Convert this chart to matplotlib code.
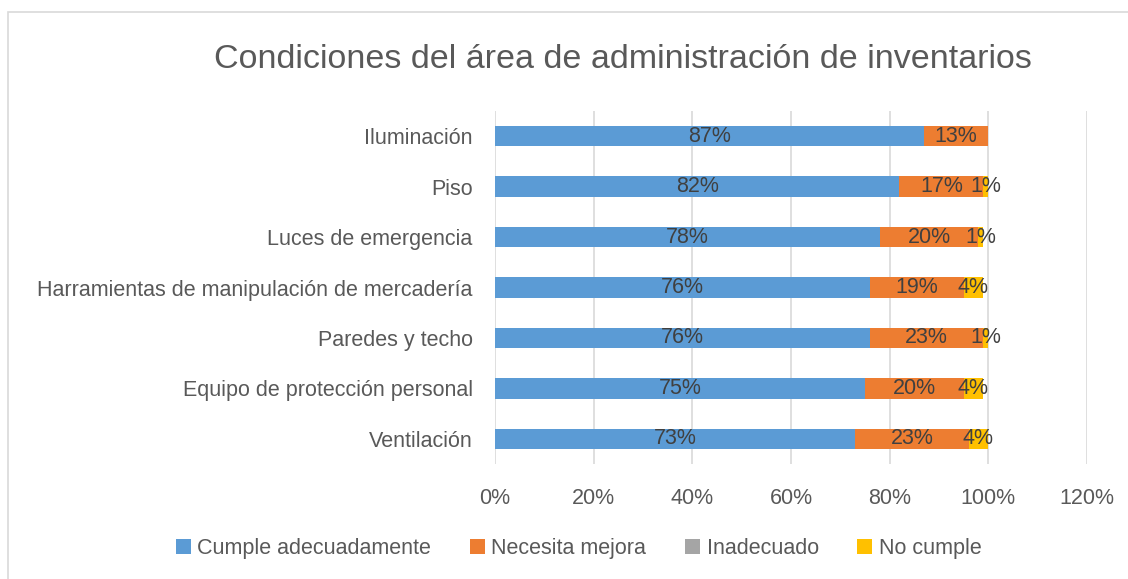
import matplotlib.pyplot as plt
from matplotlib.patches import Rectangle
import numpy as np

plt.rcParams['font.family'] = ['Liberation Sans', 'DejaVu Sans']

categorias = ["Iluminación", "Piso", "Luces de emergencia",
              "Harramientas de manipulación de mercadería", "Paredes y techo",
              "Equipo de protección personal", "Ventilación"]
cumple = [87, 82, 78, 76, 76, 75, 73]
mejora = [13, 17, 20, 19, 23, 20, 23]
inadecuado = [0, 0, 0, 0, 0, 0, 0]
no_cumple = [0, 1, 1, 4, 1, 4, 4]

series = ["Cumple adecuadamente", "Necesita mejora", "Inadecuado", "No cumple"]
colores = ["#5b9bd5", "#ed7d31", "#a5a5a5", "#ffc000"]
ticks = [0, 20, 40, 60, 80, 100, 120]

fig = plt.figure(figsize=(11.28, 5.79), dpi=100)
ax = fig.add_axes([0.4388, 0.1982, 0.5248, 0.6105])

# marco del gráfico (solo se ven los bordes superior e izquierdo)
fig.patches.append(Rectangle((8 / 1128, -0.5), 2, 1.5 - 12 / 579, transform=fig.transFigure,
                             fill=False, edgecolor="#d9d9d9", linewidth=1.2))

y = np.arange(len(categorias))
izq = np.zeros(len(categorias))
for nombre, valores, color in zip(series, [cumple, mejora, inadecuado, no_cumple], colores):
    valores = np.array(valores, dtype=float)
    ax.barh(y, valores, left=izq, height=0.4, color=color, label=nombre, zorder=3)
    for yi, l, v in zip(y, izq, valores):
        if v > 0:
            ax.text(l + v / 2, yi, f"{v:.0f}%", ha="center", va="center",
                    fontsize=15.5, color="#404040", zorder=4)
    izq += valores

ax.set_xlim(0, 120)
ax.set_ylim(len(categorias) - 0.5, -0.5)
ax.set_xticks(ticks)
ax.set_xticklabels([f"{t}%" for t in ticks], fontsize=15.5, color="#595959")
ax.set_yticks(y)
ax.set_yticklabels(categorias, fontsize=15.5, color="#595959")
ax.tick_params(length=0)
ax.tick_params(axis="y", pad=16)
ax.tick_params(axis="x", pad=17)
ax.grid(axis="x", color="#d9d9d9", linewidth=1.2, zorder=0)
for s in ax.spines.values():
    s.set_visible(False)

fig.text(0.552, 0.898, "Condiciones del área de administración de inventarios",
         ha="center", va="center", fontsize=24.5, color="#595959")

fig.legend(loc="center", bbox_to_anchor=(0.513, 0.053), ncol=4, frameon=False,
           fontsize=15.5, handlelength=0.7, handleheight=0.7, handletextpad=0.3,
           columnspacing=1.8, labelcolor="#595959")

fig.savefig("out.png", dpi=100)
